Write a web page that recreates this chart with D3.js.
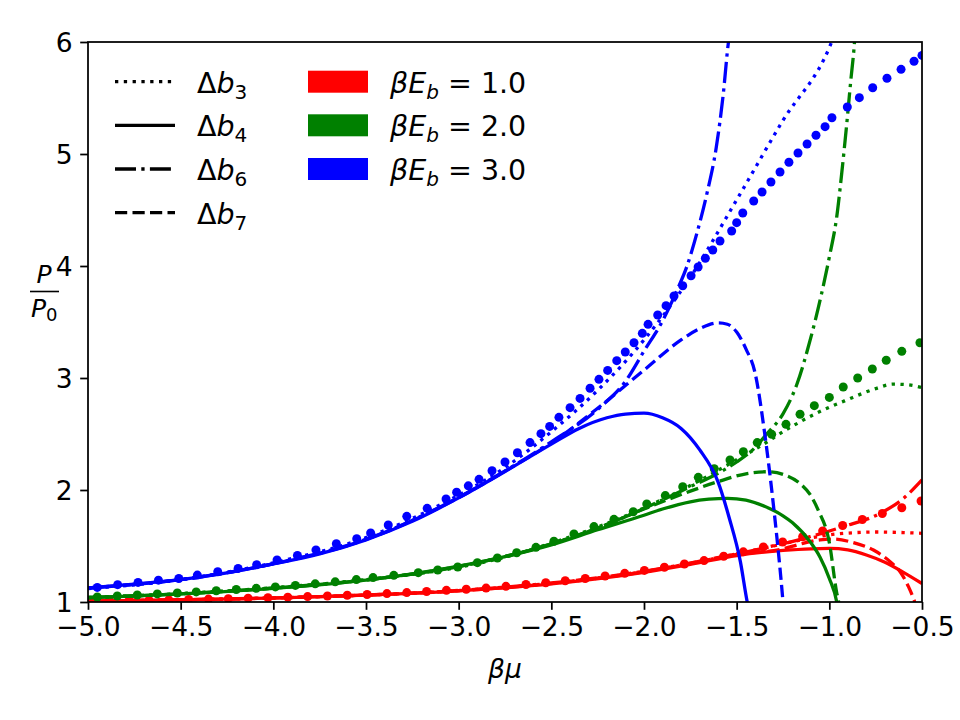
<!DOCTYPE html>
<html>
<head>
<meta charset="utf-8">
<script src="https://cdn.jsdelivr.net/npm/d3@7"></script>
<style>
  body { margin: 0; background: #fff; }
  text { font-family: "DejaVu Sans", sans-serif; fill: #000; }
</style>
</head>
<body>
<svg id="chart" width="960" height="720"></svg>
<script>
// ticks
let xTicks = [-5.0, -4.5, -4.0, -3.5, -3.0, -2.5, -2.0, -1.5, -1.0, -0.5];
let yTicks = [1, 2, 3, 4, 5, 6];

// betaE_b = 1.0 (red)
let dots_E1 = [[-4.99,1.010],[-4.885,1.012],[-4.778,1.014],[-4.671,1.016],[-4.564,1.019],[-4.457,1.022],[-4.35,1.026],
  [-4.243,1.030],[-4.136,1.034],[-4.029,1.038],[-3.922,1.043],[-3.815,1.048],[-3.708,1.054],[-3.601,1.060],[-3.494,1.067],
  [-3.387,1.075],[-3.28,1.084],[-3.173,1.094],[-3.066,1.104],[-2.959,1.114],[-2.852,1.124],[-2.745,1.140],[-2.637,1.156],
  [-2.53,1.172],[-2.425,1.190],[-2.317,1.210],[-2.21,1.232],[-2.104,1.256],[-1.998,1.282],[-1.89,1.310],[-1.782,1.339],
  [-1.676,1.370],[-1.57,1.408],[-1.464,1.448],[-1.356,1.492],[-1.252,1.536],[-1.144,1.583],[-1.036,1.635],[-0.928,1.683],
  [-0.822,1.737],[-0.714,1.790],[-0.609,1.842],[-0.505,1.902]];
let b3_E1 = [[-5,1.009],[-4,1.037],[-3,1.102],[-2.5,1.168],[-2,1.272],[-1.5,1.43],[-1.25,1.52],[-1.1,1.572],[-1,1.60],
  [-0.9,1.615],[-0.75,1.625],[-0.6,1.62],[-0.5,1.613]];
let b4_E1 = [[-5,1.008],[-4.5,1.02],[-4,1.035],[-3.5,1.062],[-3,1.1],[-2.5,1.162],[-2,1.265],[-1.75,1.335],[-1.5,1.415],
  [-1.25,1.46],[-1.1,1.475],[-1,1.478],[-0.9,1.465],[-0.8,1.42],[-0.7,1.355],[-0.6,1.265],[-0.5,1.165]];
let b6_E1 = [[-5,1.009],[-4,1.037],[-3,1.103],[-2.5,1.17],[-2,1.275],[-1.5,1.43],[-1.3,1.5],[-1.104,1.583],[-0.925,1.673],
  [-0.725,1.792],[-0.6,1.925],[-0.5,2.09]];
let b7_E1 = [[-5,1.008],[-4.5,1.02],[-4,1.035],[-3.5,1.062],[-3,1.101],[-2.5,1.165],[-2,1.27],[-1.75,1.345],[-1.5,1.425],
  [-1.25,1.475],[-1.15,1.52],[-1.05,1.555],[-0.978,1.562],[-0.87,1.53],[-0.762,1.464],[-0.672,1.36],[-0.618,1.27],
  [-0.573,1.137],[-0.546,1.03],[-0.54,1.0],[-0.535,0.9]];

// betaE_b = 2.0 (green)
let dots_E2 = [[-4.95,1.045],[-4.842,1.054],[-4.734,1.063],[-4.626,1.072],[-4.518,1.08],[-4.416,1.09],[-4.308,1.10],
  [-4.2,1.112],[-4.092,1.122],[-3.989,1.135],[-3.881,1.148],[-3.774,1.162],[-3.666,1.18],[-3.552,1.2],[-3.462,1.218],
  [-3.35,1.238],[-3.218,1.262],[-3.113,1.286],[-3.005,1.313],[-2.899,1.351],[-2.791,1.393],[-2.687,1.44],[-2.583,1.488],
  [-2.486,1.542],[-2.378,1.607],[-2.27,1.673],[-2.162,1.738],[-2.058,1.806],[-1.985,1.875],[-1.885,1.95],[-1.791,2.03],
  [-1.707,2.113],[-1.621,2.19],[-1.536,2.268],[-1.464,2.342],[-1.389,2.423],[-1.311,2.497],[-1.234,2.586],[-1.158,2.676],
  [-1.081,2.753],[-1.0,2.827],[-0.925,2.92],[-0.847,3.0],[-0.768,3.08],[-0.693,3.158],[-0.609,3.238],[-0.511,3.315]];
let b3_E2 = [[-5,1.04],[-4.5,1.075],[-4,1.128],[-3.5,1.2],[-3,1.31],[-2.75,1.4],[-2.5,1.525],[-2.25,1.67],[-2,1.84],
  [-1.75,2.04],[-1.5,2.27],[-1.374,2.39],[-1.23,2.54],[-1.07,2.685],[-0.906,2.804],[-0.75,2.905],[-0.655,2.945],
  [-0.58,2.94],[-0.5,2.915]];
let b4_E2 = [[-5,1.038],[-4.5,1.072],[-4,1.122],[-3.5,1.195],[-3,1.32],[-2.75,1.405],[-2.5,1.51],[-2.25,1.645],[-2,1.775],
  [-1.9,1.83],[-1.75,1.895],[-1.65,1.918],[-1.55,1.926],[-1.45,1.91],[-1.35,1.855],[-1.25,1.77],[-1.2,1.71],[-1.1,1.53],
  [-1.05,1.4],[-1,1.21],[-0.96,1.0],[-0.95,0.9]];
let b6_E2 = [[-5,1.04],[-4.5,1.074],[-4,1.125],[-3.5,1.198],[-3,1.315],[-2.5,1.52],[-2.25,1.66],[-2,1.835],[-1.75,2.03],
  [-1.6,2.15],[-1.5,2.25],[-1.4,2.38],[-1.338,2.5],[-1.25,2.68],[-1.176,2.94],[-1.1,3.36],[-1.045,3.73],[-1.0,4.08],
  [-0.96,4.44],[-0.933,4.83],[-0.906,5.27],[-0.884,5.66],[-0.866,5.96],[-0.862,6.05]];
let b7_E2 = [[-5,1.039],[-4.5,1.073],[-4,1.124],[-3.5,1.197],[-3,1.318],[-2.5,1.518],[-2.25,1.66],[-2,1.83],[-1.75,1.99],
  [-1.6,2.075],[-1.45,2.145],[-1.33,2.163],[-1.25,2.14],[-1.16,2.06],[-1.1,1.95],[-1.06,1.82],[-1.0,1.53],[-0.96,1.08],
  [-0.95,1.0],[-0.945,0.9]];

// betaE_b = 3.0 (blue)
let dots_E3 = [[-4.95,1.13],[-4.84,1.155],[-4.73,1.175],[-4.62,1.195],[-4.51,1.21],[-4.41,1.24],[-4.30,1.27],[-4.19,1.30],
  [-4.09,1.333],[-3.98,1.375],[-3.87,1.415],[-3.77,1.465],[-3.66,1.52],[-3.55,1.565],[-3.475,1.616],[-3.38,1.688],
  [-3.28,1.765],[-3.17,1.836],[-3.068,1.92],[-3.011,1.98],[-2.948,2.037],[-2.89,2.095],[-2.82,2.172],[-2.75,2.25],
  [-2.683,2.333],[-2.615,2.423],[-2.556,2.503],[-2.509,2.568],[-2.459,2.649],[-2.399,2.735],[-2.345,2.818],[-2.291,2.908],
  [-2.243,2.988],[-2.196,3.068],[-2.147,3.155],[-2.101,3.232],[-2.054,3.315],[-2.009,3.399],[-1.978,3.479],[-1.926,3.563],
  [-1.881,3.646],[-1.838,3.732],[-1.791,3.824],[-1.746,3.913],[-1.708,3.991],[-1.669,4.069],[-1.629,4.143],[-1.59,4.223],
  [-1.527,4.313],[-1.5,4.387],[-1.467,4.473],[-1.408,4.58],[-1.363,4.661],[-1.315,4.75],[-1.266,4.839],[-1.218,4.926],
  [-1.169,5.009],[-1.12,5.089],[-1.072,5.167],[-1.023,5.244],[-0.986,5.324],[-0.903,5.42],[-0.838,5.503],[-0.766,5.592],
  [-0.689,5.676],[-0.613,5.756],[-0.543,5.828],[-0.5,5.88]];
let b3_E3 = [[-5,1.12],[-4.5,1.2],[-4,1.35],[-3.5,1.575],[-3,1.955],[-2.75,2.2],[-2.5,2.52],[-2.25,2.89],[-2,3.34],
  [-1.75,3.9],[-1.5,4.59],[-1.25,5.3],[-1,5.95],[-0.98,6.03]];
let b4_E3 = [[-5,1.125],[-4.75,1.16],[-4.5,1.2],[-4.25,1.26],[-4,1.34],[-3.75,1.43],[-3.5,1.555],[-3.25,1.72],[-3,1.93],
  [-2.75,2.165],[-2.5,2.41],[-2.35,2.55],[-2.2,2.645],[-2.1,2.678],[-2,2.686],[-1.9,2.645],[-1.8,2.55],[-1.7,2.36],
  [-1.6,2.07],[-1.54,1.75],[-1.48,1.36],[-1.443,1.0],[-1.43,0.9]];
let b6_E3 = [[-5,1.125],[-4.5,1.2],[-4,1.342],[-3.5,1.56],[-3,1.935],[-2.75,2.17],[-2.5,2.43],[-2.25,2.72],[-2.1,2.97],
  [-2,3.24],[-1.9,3.51],[-1.82,3.79],[-1.77,3.99],[-1.715,4.29],[-1.66,4.65],[-1.61,5.06],[-1.572,5.54],[-1.545,5.99],
  [-1.54,6.05]];
let b7_E3 = [[-5,1.125],[-4.5,1.2],[-4,1.341],[-3.5,1.558],[-3,1.932],[-2.75,2.168],[-2.5,2.42],[-2.25,2.73],[-2,3.07],
  [-1.8,3.34],[-1.7,3.44],[-1.6,3.492],[-1.55,3.48],[-1.5,3.41],[-1.45,3.26],[-1.4,3.04],[-1.35,2.52],[-1.3,1.84],
  [-1.25,1.0],[-1.245,0.9]];

let colors = ['#ff0000', '#008000', '#0000ff'];
let energyLabels = ['1.0', '2.0', '3.0'];
let deltaLabels = ['3', '4', '6', '7'];

let lw = 3.3;
let dashes = {
  dotted: '3.3,5.5',
  solid: null,
  dashdot: '21,5.3,3.3,5.3',
  dashed: '12.2,5.3'
};
let styleOrder = ['dotted', 'solid', 'dashdot', 'dashed'];

let curves = [
  [b3_E1, b4_E1, b6_E1, b7_E1],
  [b3_E2, b4_E2, b6_E2, b7_E2],
  [b3_E3, b4_E3, b6_E3, b7_E3]
];
let dots = [dots_E1, dots_E2, dots_E3];

let svg = d3.select('#chart');
let pLeft = 88, pRight = 922, pTop = 42, pBottom = 602;

let x = d3.scaleLinear().domain([-5, -0.5]).range([pLeft, pRight]);
let y = d3.scaleLinear().domain([1, 6]).range([pBottom, pTop]);

svg.append('clipPath').attr('id', 'plotclip')
  .append('rect')
  .attr('x', pLeft).attr('y', pTop)
  .attr('width', pRight - pLeft).attr('height', pBottom - pTop);

let plot = svg.append('g').attr('clip-path', 'url(#plotclip)');

let line = d3.line()
  .x(d => x(d[0]))
  .y(d => y(d[1]))
  .curve(d3.curveMonotoneX);

curves.forEach((set, i) => {
  plot.selectAll(null)
    .data(dots[i])
    .enter()
    .append('circle')
    .attr('cx', d => x(d[0]))
    .attr('cy', d => y(d[1]))
    .attr('r', 4.5)
    .attr('fill', colors[i]);

  set.forEach((data, j) => {
    plot.append('path')
      .datum(data)
      .attr('d', line)
      .attr('fill', 'none')
      .attr('stroke', colors[i])
      .attr('stroke-width', lw)
      .attr('stroke-dasharray', dashes[styleOrder[j]]);
  });
});

// axes
let xAxis = svg.append('g')
  .attr('transform', `translate(0,${pBottom})`)
  .call(d3.axisBottom(x).tickValues(xTicks).tickFormat(d3.format('.1f'))
    .tickSizeOuter(0).tickSize(7.8).tickPadding(7));
let yAxis = svg.append('g')
  .attr('transform', `translate(${pLeft},0)`)
  .call(d3.axisLeft(y).tickValues(yTicks).tickFormat(d3.format('d'))
    .tickSizeOuter(0).tickSize(7.8).tickPadding(7.5));

[xAxis, yAxis].forEach(g => {
  g.select('.domain').remove();
  g.selectAll('line').attr('stroke', '#000').attr('stroke-width', 1.75);
  g.selectAll('text')
    .attr('font-size', 26.5)
    .attr('font-family', '"DejaVu Sans", sans-serif')
    .attr('fill', '#000');
});
yAxis.selectAll('text').attr('dy', '0.36em');

svg.append('rect')
  .attr('x', pLeft).attr('y', pTop)
  .attr('width', pRight - pLeft).attr('height', pBottom - pTop)
  .attr('fill', 'none')
  .attr('stroke', '#000')
  .attr('stroke-width', 1.75);

// axis labels
svg.append('text')
  .attr('x', (pLeft + pRight) / 2)
  .attr('y', 678)
  .attr('text-anchor', 'middle')
  .attr('font-size', 26.5)
  .attr('font-style', 'italic')
  .text('βμ');

svg.append('text')
  .attr('x', 44).attr('y', 283)
  .attr('text-anchor', 'middle')
  .attr('font-size', 25)
  .attr('font-style', 'italic')
  .text('P');
svg.append('line')
  .attr('x1', 30).attr('x2', 59)
  .attr('y1', 291.5).attr('y2', 291.5)
  .attr('stroke', '#000').attr('stroke-width', 1.6);
let den = svg.append('text')
  .attr('x', 31).attr('y', 317)
  .attr('font-size', 25);
den.append('tspan').attr('font-style', 'italic').text('P');
den.append('tspan').attr('font-size', 18).attr('dy', 4).text('0');

// legend: line styles
let legendRows = [81.7, 125.3, 169, 212.7];
styleOrder.forEach((s, j) => {
  svg.append('line')
    .attr('x1', 115).attr('x2', 175)
    .attr('y1', legendRows[j]).attr('y2', legendRows[j])
    .attr('stroke', '#000')
    .attr('stroke-width', lw)
    .attr('stroke-dasharray', dashes[s]);
  let t = svg.append('text')
    .attr('x', 197).attr('y', legendRows[j] + 11)
    .attr('font-size', 28.5);
  t.append('tspan').text('Δ');
  t.append('tspan').attr('font-style', 'italic').text('b');
  t.append('tspan').attr('font-size', 20).attr('dy', 6).text(deltaLabels[j]);
});

// legend: energies
colors.forEach((c, i) => {
  svg.append('rect')
    .attr('x', 308).attr('y', legendRows[i] - 11)
    .attr('width', 60).attr('height', 22)
    .attr('fill', c);
  let t = svg.append('text')
    .attr('x', 390).attr('y', legendRows[i] + 11)
    .attr('font-size', 28.5);
  t.append('tspan').attr('font-style', 'italic').text('βE');
  t.append('tspan').attr('font-style', 'italic').attr('font-size', 20).attr('dy', 6).text('b');
  t.append('tspan').attr('dy', -6).text(' = ' + energyLabels[i]);
});
</script>
</body>
</html>
